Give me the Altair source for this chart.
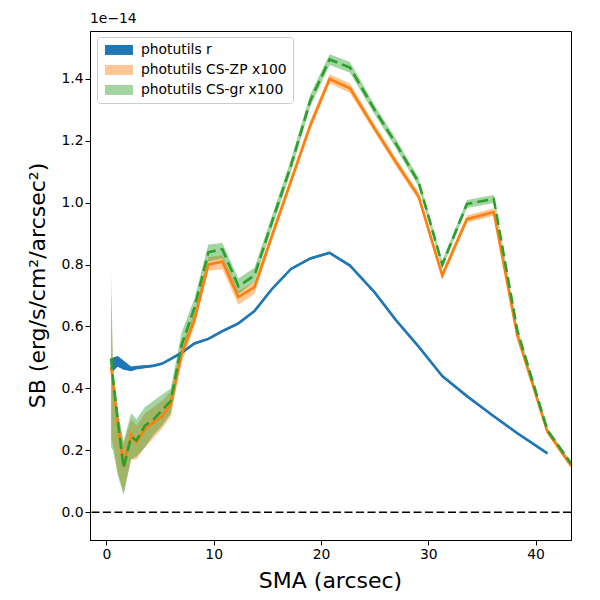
import pandas as pd
import altair as alt

# SMA grid (arcsec) shared by the three profiles
sma = [0.44, 0.62, 1.05, 1.6, 2.3, 2.8, 3.6, 4.4, 5.2, 6.0, 7.0, 8.2, 9.5, 10.8,
       12.3, 13.8, 15.4, 17.2, 19.0, 20.8, 22.7, 25.0, 27.0, 29.1, 31.3, 33.6,
       36.1, 38.3, 41.1, 43.3]

# surface brightness in units of 1e-14 erg/s/cm2/arcsec2
r_sb = [0.475, 0.48, 0.49, 0.475, 0.463, 0.467, 0.470, 0.473, 0.480, 0.495,
        0.515, 0.545, 0.560, 0.585, 0.610, 0.650, 0.720, 0.786, 0.820, 0.838,
        0.797, 0.710, 0.620, 0.535, 0.440, 0.375, 0.310, 0.255, 0.190]
r_lo = [0.450, 0.455, 0.470, 0.460, 0.455, 0.461, 0.465, 0.469, 0.476, 0.491,
        0.511, 0.541, 0.556, 0.581, 0.606, 0.646, 0.716, 0.782, 0.816, 0.834,
        0.793, 0.706, 0.616, 0.531, 0.436, 0.371, 0.306, 0.251, 0.186]
r_hi = [0.495, 0.500, 0.505, 0.490, 0.471, 0.473, 0.475, 0.477, 0.484, 0.499,
        0.519, 0.549, 0.564, 0.589, 0.614, 0.654, 0.724, 0.790, 0.824, 0.842,
        0.801, 0.714, 0.624, 0.539, 0.444, 0.379, 0.314, 0.259, 0.194]

zp_sb = [0.47, 0.42, 0.29, 0.15, 0.25, 0.225, 0.27, 0.29, 0.31, 0.35, 0.51,
         0.62, 0.80, 0.81, 0.695, 0.727, 0.89, 1.07, 1.25, 1.40, 1.37, 1.24,
         1.13, 1.02, 0.765, 0.947, 0.97, 0.57, 0.26, 0.15]
zp_lo = [0.23, 0.22, 0.13, 0.065, 0.17, 0.17, 0.21, 0.24, 0.27, 0.31, 0.48,
         0.60, 0.78, 0.785, 0.67, 0.705, 0.875, 1.055, 1.235, 1.385, 1.355,
         1.227, 1.117, 1.007, 0.752, 0.935, 0.958, 0.56, 0.252, 0.143]
zp_hi = [0.70, 0.44, 0.31, 0.22, 0.30, 0.28, 0.32, 0.34, 0.36, 0.39, 0.54,
         0.645, 0.825, 0.83, 0.715, 0.745, 0.905, 1.085, 1.265, 1.415, 1.385,
         1.253, 1.143, 1.033, 0.778, 0.959, 0.982, 0.58, 0.268, 0.157]

gr_sb = [0.497, 0.43, 0.30, 0.142, 0.243, 0.232, 0.28, 0.30, 0.33, 0.36,
         0.54, 0.66, 0.84, 0.85, 0.73, 0.765, 0.935, 1.12, 1.33, 1.463, 1.437,
         1.30, 1.19, 1.066, 0.80, 0.996, 1.012, 0.587, 0.265, 0.157]
gr_lo = [0.21, 0.20, 0.12, 0.055, 0.17, 0.18, 0.21, 0.25, 0.28, 0.32, 0.50,
         0.63, 0.81, 0.82, 0.705, 0.745, 0.915, 1.10, 1.31, 1.445, 1.42,
         1.285, 1.175, 1.052, 0.787, 0.983, 0.999, 0.577, 0.257, 0.15]
gr_hi = [0.775, 0.46, 0.33, 0.23, 0.32, 0.30, 0.34, 0.36, 0.38, 0.40, 0.58,
         0.69, 0.865, 0.87, 0.755, 0.79, 0.955, 1.14, 1.35, 1.48, 1.455,
         1.315, 1.205, 1.08, 0.813, 1.009, 1.025, 0.597, 0.273, 0.164]

labels = ['photutils r', 'photutils CS-ZP x100', 'photutils CS-gr x100']
colors = ['#1f77b4', '#ff7f0e', '#2ca02c']

frames = []
for lab, v, lo, hi in [(labels[0], r_sb, r_lo, r_hi),
                       (labels[1], zp_sb, zp_lo, zp_hi),
                       (labels[2], gr_sb, gr_lo, gr_hi)]:
    frames.append(pd.DataFrame({'sma': sma[:len(v)], 'sb': v, 'lo': lo,
                                'hi': hi, 'series': lab}))
df = pd.concat(frames, ignore_index=True)

x_scale = alt.Scale(domain=[-1.53, 43.3], nice=False, zero=False)
y_scale = alt.Scale(domain=[-0.09, 1.555], nice=False, zero=False)

x_enc = alt.X('sma:Q', scale=x_scale,
              axis=alt.Axis(values=[0, 10, 20, 30, 40], title='SMA (arcsec)',
                            titleFontSize=22, titleFontWeight='normal',
                            titleX=240, titleY=40, titleBaseline='middle'))
y_enc = alt.Y('lo:Q', scale=y_scale,
              axis=alt.Axis(values=[0, 0.2, 0.4, 0.6, 0.8, 1.0, 1.2, 1.4],
                            format='.1f', title='SB (erg/s/cm²/arcsec²)',
                            titleFontSize=22, titleFontWeight='normal',
                            titleX=-53, titleY=254, titleBaseline='middle',
                            titleAngle=-90))

# wide legend patch: 28 x 10 px, laid out as a 10 px symbol
legend = alt.Legend(title=None, orient='none', legendX=7, legendY=6,
                    fillColor='white', strokeColor='#cccccc', cornerRadius=3,
                    padding=6, labelFontSize=13.9, labelOffset=24,
                    symbolType='M-1,-1L4.6,-1L4.6,1L-1,1Z',
                    symbolSize=100, symbolStrokeWidth=0, rowPadding=5)

areas = alt.Chart(df).mark_area(clip=True).encode(
    x=x_enc,
    y=y_enc,
    y2='hi:Q',
    color=alt.Color('series:N', scale=alt.Scale(domain=labels, range=colors),
                    legend=legend),
    opacity=alt.Opacity('series:N',
                        scale=alt.Scale(type='ordinal', domain=labels,
                                        range=[1, 0.44, 0.44]),
                        legend=legend),
    detail='series:N'
)

def line(lab, color, dash=None):
    kw = dict(clip=True, color=color, strokeWidth=2.6)
    if dash:
        kw['strokeDash'] = dash
    return alt.Chart(df[df['series'] == lab]).mark_line(**kw).encode(
        x='sma:Q', y='sb:Q')

zero = alt.Chart(pd.DataFrame({'y': [0]})).mark_rule(
    color='black', strokeWidth=1.5, strokeDash=[8, 3.5]
).encode(y='y:Q')

offset = alt.Chart(pd.DataFrame({'t': ['1e\u221214']})).mark_text(
    align='left', baseline='middle', fontSize=13.9, color='black'
).encode(x=alt.value(0), y=alt.value(-12), text='t:N')

chart = alt.layer(
    areas,
    line(labels[0], colors[0]),
    line(labels[1], colors[1]),
    line(labels[2], colors[2], [11, 5]),
    zero,
    offset
).properties(
    width=481,
    height=509,
    autosize=alt.AutoSizeParams(type='none'),
    padding={'left': 82, 'top': 23, 'right': 21, 'bottom': 52}
).configure(
    font='DejaVu Sans'
).configure_axis(
    grid=False,
    domainColor='black',
    tickColor='black',
    tickSize=5,
    labelFontSize=13.9,
    labelColor='black',
    titleColor='black'
).configure_view(
    stroke='black',
    strokeWidth=1
)

chart.save('out.html', embed_options={'renderer': 'svg', 'actions': False})
